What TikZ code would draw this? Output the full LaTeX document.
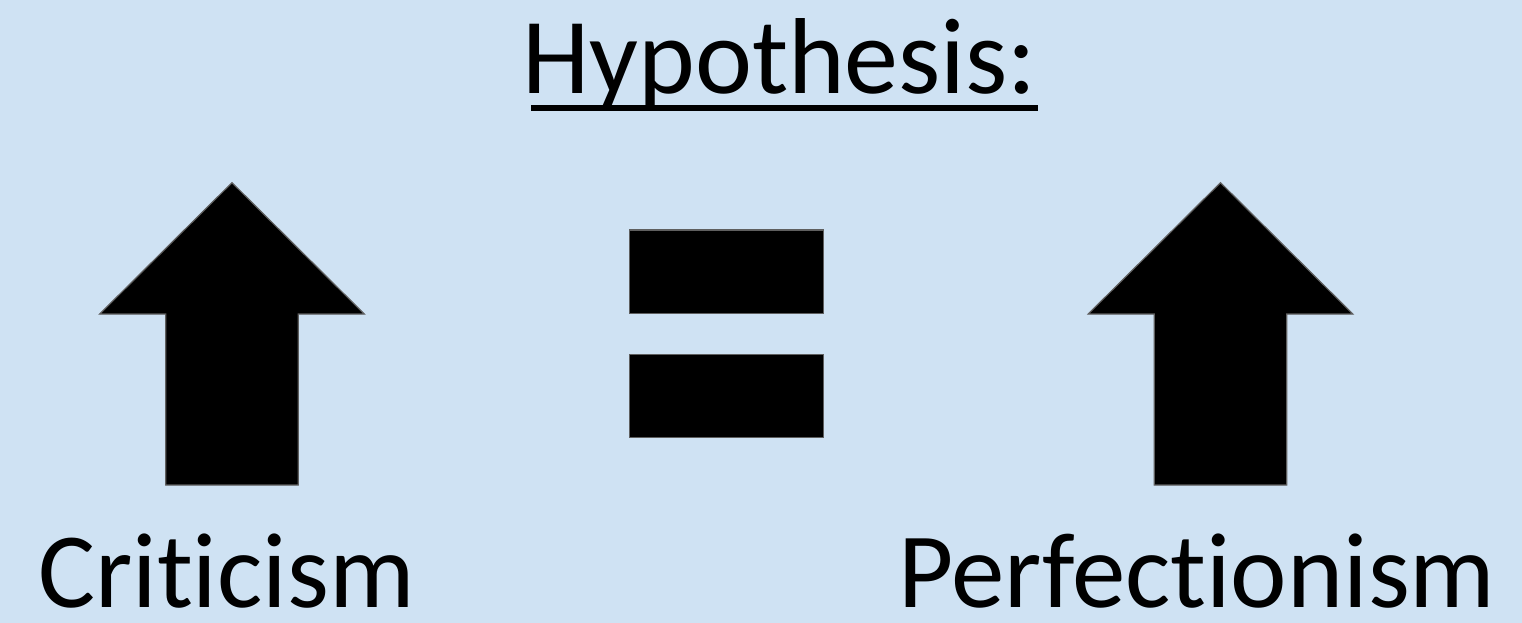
\documentclass[tikz,border=0pt]{standalone}
\usepackage{fontspec}
\setmainfont{Carlito}[Ligatures=NoCommon]
\usepackage{xcolor}
\usetikzlibrary{positioning,calc}
\definecolor{skyback}{HTML}{CFE2F3}
\definecolor{edgegray}{HTML}{5F5F5F}
\tikzset{
  bigword/.style={inner sep=0pt,anchor=base west,text depth=0pt,
                  font=\fontsize{107}{112}\selectfont},
  fatarrow/.style={fill=black,draw=edgegray,line width=1.2pt,line join=miter},
  eqbar/.style={fill=black,draw=edgegray,line width=1.2pt}
}

\begin{document}
\begin{tikzpicture}[x=1pt,y=-1pt]
    \path[use as bounding box,fill=skyback] (0,0) rectangle (1522,623);
    % title
    \node[bigword,font=\fontsize{108}{114}\selectfont] (title) at (522,94) {Hypothesis:};
    \draw[line width=5.5pt] ([xshift=9pt,yshift=-14pt]title.base west)
      -- ([xshift=1pt,yshift=-14pt]title.base east);
    % up arrows
    \foreach \cx/\nm in {232/left,1220.5/right}{
      \coordinate (tip\nm) at (\cx,182.7);
      \draw[fatarrow] (tip\nm) -- ++(132.3,131.3) -- ++(-66.1,0) -- ++(0,171)
        -- ++(-132.4,0) -- ++(0,-171) -- ++(-66.1,0) -- cycle;
    }
    % equals sign
    \draw[eqbar] (629.3,230) rectangle (823.3,313.3);
    \draw[eqbar] (629.3,354.3) rectangle (823.3,437.3);
    % labels
    \node[bigword] (crit) at (38,607) {Criticism};
    \node[bigword] (perf) at (898,607) {Perfectionism};
  \end{tikzpicture}
\end{document}
